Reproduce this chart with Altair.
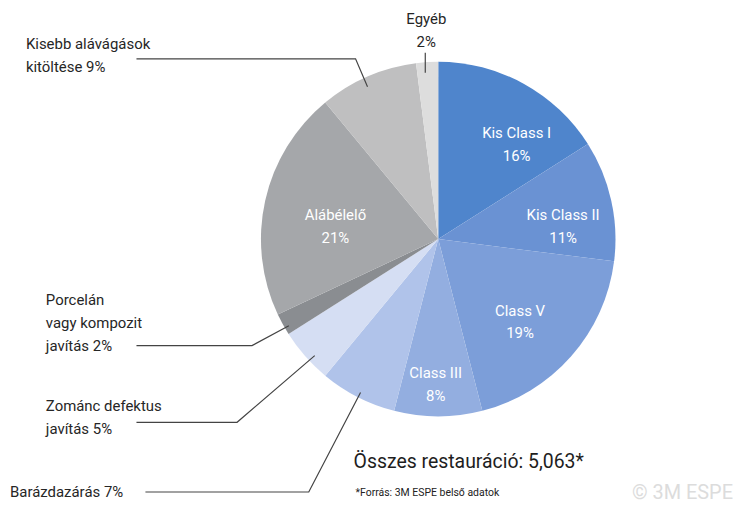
import altair as alt
import pandas as pd
import math

# ---- data ----
categories = ["Kis Class I", "Kis Class II", "Class V", "Class III", "Barázdazárás",
              "Zománc defektus javítás", "Porcelán vagy kompozit javítás", "Alábélelő",
              "Kisebb alávágások kitöltése", "Egyéb"]
values = [16, 11, 19, 8, 7, 5, 2, 21, 9, 2]
colors = ["#4f85cc", "#6a92d3", "#7c9ed9", "#93aee0", "#b0c3ea",
          "#d5def3", "#8a8d91", "#a5a7aa", "#bfbfc0", "#dddddd"]
inner_labels = ["Kis Class I\n16%", "Kis Class II\n11%", "Class V\n19%", "Class III\n8%",
                "", "", "", "Alábélelő\n21%", "", ""]

outer_texts = ["Egyéb\n2%", "Kisebb alávágások\nkitöltése 9%",
               "Porcelán\nvagy kompozit\njavítás 2%", "Zománc defektus\njavítás 5%",
               "Barázdazárás 7%"]

# ---- layout (page pixel coords, minus the 8px margin) ----
M = 8
CX, CY, R = 440 - M, 239 - M, 178
LH = 23
label_shift = [11, 7, 4, 1, 0, 0, 0, -5.5, 0, 0]
label_radius = [123, 126, 117, 146, 0, 0, 0, 104, 0, 0]
outer_pos = [(428, 11, "center"), (26, 36, "left"), (46, 293, "left"),
             (46, 400, "left"), (10, 486, "left")]
leaders = [
    [(427, 52), (427, 72)],
    [(137, 58), (357, 58), (369, 86)],
    [(137, 346), (253, 346), (290, 326)],
    [(137, 423), (238, 423), (316, 356)],
    [(146, 493), (310, 493), (362, 393)],
]

df = pd.DataFrame({"cat": categories, "val": values, "idx": list(range(len(values))),
                   "lab": inner_labels})

pie = alt.Chart(df).mark_arc(outerRadius=R, strokeWidth=0).encode(
    theta=alt.Theta("val:Q", stack=True),
    order=alt.Order("idx:Q"),
    color=alt.Color("cat:N", scale=alt.Scale(domain=categories, range=colors), legend=None),
    x=alt.value(CX), y=alt.value(CY),
)

total_v = sum(values)
cum = 0
lx, ly = [], []
for v, s, r in zip(values, label_shift, label_radius):
    mid = (cum + v / 2) / total_v * 2 * math.pi + math.radians(s)
    cum += v
    lx.append(CX + r * math.sin(mid))
    ly.append(CY - r * math.cos(mid) - LH / 2)
ldf_in = pd.DataFrame({"lab": inner_labels, "lx": lx, "ly": ly})
ldf_in = ldf_in[ldf_in["lab"] != ""]

inner = alt.Chart(ldf_in).mark_text(
    color="white", fontSize=15, lineBreak="\n", font="Roboto",
    align="center", baseline="middle", lineHeight=LH).encode(
    text="lab:N",
    x=alt.X("lx:Q", scale=None, axis=None),
    y=alt.Y("ly:Q", scale=None, axis=None),
)

outer_layers = []
for t, (px, py, a) in zip(outer_texts, outer_pos):
    outer_layers.append(
        alt.Chart(pd.DataFrame({"t": [t]})).mark_text(
            color="#262626", fontSize=15, lineBreak="\n", font="Roboto",
            align=a, baseline="top", lineHeight=LH).encode(
            text="t:N", x=alt.value(px - M), y=alt.value(py - M))
    )

rows = []
for g, pts in enumerate(leaders):
    for k, (px, py) in enumerate(pts):
        rows.append({"g": g, "k": k, "px": px - M, "py": py - M})
ldf = pd.DataFrame(rows)
lines = alt.Chart(ldf).mark_line(color="#444444", strokeWidth=1.2).encode(
    x=alt.X("px:Q", scale=None, axis=None),
    y=alt.Y("py:Q", scale=None, axis=None),
    detail="g:N", order="k:Q")

total = alt.Chart(pd.DataFrame({"t": ["Összes restauráció: 5,063*"]})).mark_text(
    color="#1e1e1e", fontSize=19.5, font="Roboto", align="left", baseline="middle").encode(
    text="t:N", x=alt.value(355 - M), y=alt.value(463 - M))
source = alt.Chart(pd.DataFrame({"t": ["*Forrás: 3M ESPE belső adatok"]})).mark_text(
    color="#222222", fontSize=10.5, font="Roboto", align="left", baseline="middle").encode(
    text="t:N", x=alt.value(357 - M), y=alt.value(494 - M))
logo = alt.Chart(pd.DataFrame({"t": ["© 3M ESPE"]})).mark_text(
    color="#dcdcdc", fontSize=20, font="Roboto", align="right",
    baseline="middle").encode(
    text="t:N", x=alt.value(736 - M), y=alt.value(494 - M))

chart = alt.layer(pie, inner, lines, *outer_layers, total, source, logo).properties(
    width=725, height=492, padding=0
).configure_view(stroke=None)

chart.save("out.html", embed_options={"renderer": "svg", "actions": False})
